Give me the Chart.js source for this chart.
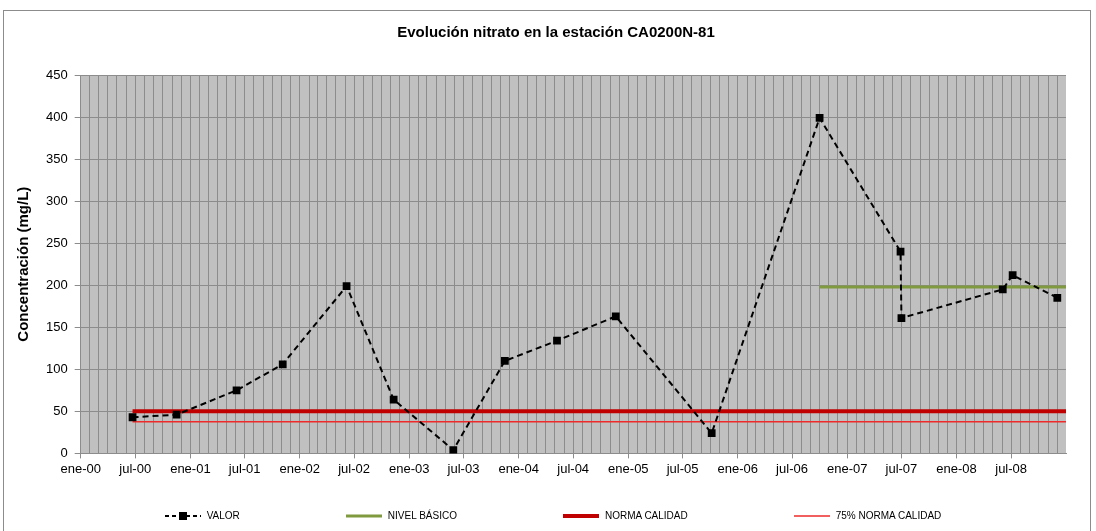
<!DOCTYPE html>
<html lang="es">
<head>
<meta charset="UTF-8">
<script src="https://cdn.jsdelivr.net/npm/chart.js"></script>
<title>Evolución nitrato</title>
<style>
  body { margin: 0; background: #fff; }
  #wrap { position: relative; width: 1096px; height: 531px; }
  #titulo {
    position: absolute; left: 356px; top: 23px; width: 400px; text-align: center;
    font: bold 15px "Liberation Sans", Arial, sans-serif; color: #000;
  }
  #legend {
    position: absolute; left: 0; top: 510px; width: 1096px;
    display: flex; justify-content: center; gap: 104px;
    padding-left: 8px; box-sizing: border-box;
    font: 10px "Liberation Sans", Arial, sans-serif; color: #000;
  }
  .item { display: flex; align-items: center; }
  .item canvas { margin-right: 4px; }
</style>
</head>
<body>
<div id="wrap">
  <canvas id="grafico" width="1096" height="531"></canvas>
  <div id="titulo">Evolución nitrato en la estación CA0200N-81</div>
  <div id="legend"></div>
</div>

<script>
// fechas de muestreo y concentraciones de nitrato (mg/L)
const fechas = ['2000-06-22', '2000-11-16', '2001-06-04', '2001-11-05', '2002-06-06',
  '2002-11-10', '2003-05-28', '2003-11-16', '2004-05-08', '2004-11-20', '2005-10-06',
  '2006-10-01', '2007-06-28', '2007-07-01', '2008-06-03', '2008-07-06', '2008-12-02'];
const valores = [43, 46, 75, 106, 199, 64, 4, 110, 134, 163, 24, 399, 240, 161, 195, 212, 185];

// niveles de referencia
const nivelBasico = 198;
const nivelDesde = '2006-10-01';
const normaCalidad = 50;
const norma75 = 37.5;
const normaDesde = '2000-06-22';

// eje temporal
const ejeInicio = '2000-01-01';
const ejeFin = '2008-12-31';
const nombresMes = { 0: 'ene', 6: 'jul' };
const yTicks = [0, 50, 100, 150, 200, 250, 300, 350, 400, 450];

const toMs = s => Date.parse(s + 'T00:00:00Z');

// una marca por mes (rejilla vertical)
const meses = [];
for (let y = 2000; y <= 2008; y++) {
  for (let m = 0; m < 12; m++) meses.push(Date.UTC(y, m, 1));
}

const tramo = (desde, valor) => [
  { x: toMs(desde), y: valor },
  { x: toMs(ejeFin), y: valor }
];

const gris = '#8c8c8c';
const fuente = '"Liberation Sans", Arial, sans-serif';

const fondoPlugin = {
  id: 'fondo',
  beforeDraw(chart) {
    const { ctx, chartArea: a } = chart;
    ctx.save();
    ctx.fillStyle = '#c0c0c0';
    ctx.fillRect(a.left, a.top, a.width, a.height);
    ctx.strokeStyle = gris;
    ctx.lineWidth = 1;
    ctx.strokeRect(3.5, 10.5, 1087, 530);
    ctx.restore();
  }
};

const ctx = document.getElementById('grafico').getContext('2d');

const grafico = new Chart(ctx, {
  type: 'line',
  data: {
    datasets: [
      {
        label: 'VALOR',
        data: fechas.map((f, i) => ({ x: toMs(f), y: valores[i] })),
        borderColor: '#000',
        borderWidth: 2,
        borderDash: [6, 4],
        pointStyle: 'rect',
        pointRadius: 5.5,
        pointBackgroundColor: '#000',
        pointBorderWidth: 0
      },
      {
        label: 'NIVEL BÁSICO',
        data: tramo(nivelDesde, nivelBasico),
        borderColor: '#7f9a3f',
        borderWidth: 3,
        pointRadius: 0
      },
      {
        label: 'NORMA CALIDAD',
        data: tramo(normaDesde, normaCalidad),
        borderColor: '#c00000',
        borderWidth: 4,
        pointRadius: 0
      },
      {
        label: '75% NORMA CALIDAD',
        data: tramo(normaDesde, norma75),
        borderColor: '#ee2a2a',
        borderWidth: 1.5,
        pointRadius: 0
      }
    ]
  },
  options: {
    responsive: false,
    animation: false,
    layout: { padding: { top: 75, left: 10, right: 30, bottom: 51 } },
    plugins: {
      legend: { display: false },
      tooltip: { enabled: false },
      title: { display: false }
    },
    scales: {
      x: {
        type: 'linear',
        min: toMs(ejeInicio),
        max: toMs(ejeFin),
        afterBuildTicks: scale => { scale.ticks = meses.map(v => ({ value: v })); },
        ticks: {
          autoSkip: false,
          maxRotation: 0,
          padding: 3,
          color: '#000',
          font: { family: fuente, size: 13 },
          callback: v => {
            const d = new Date(v);
            const nombre = nombresMes[d.getUTCMonth()];
            return nombre ? nombre + '-' + String(d.getUTCFullYear()).slice(2) : '';
          }
        },
        grid: {
          color: gris,
          tickLength: 5,
          tickColor: c => (c.tick && c.tick.label ? gris : 'rgba(0,0,0,0)')
        },
        border: { color: gris }
      },
      y: {
        min: 0,
        max: 450,
        afterBuildTicks: scale => { scale.ticks = yTicks.map(v => ({ value: v })); },
        ticks: {
          padding: 7,
          color: '#000',
          font: { family: fuente, size: 13 }
        },
        grid: { color: gris, tickLength: 6 },
        border: { color: gris },
        title: {
          display: true,
          text: 'Concentración (mg/L)',
          color: '#000',
          font: { family: fuente, size: 15, weight: 'bold' },
          padding: { top: 5, bottom: 6 }
        }
      }
    }
  },
  plugins: [fondoPlugin]
});

// leyenda en HTML a partir de los estilos de cada serie
const leyenda = document.getElementById('legend');
grafico.data.datasets.forEach(ds => {
  const item = document.createElement('div');
  item.className = 'item';
  const c = document.createElement('canvas');
  c.width = 40; c.height = 10;
  const g = c.getContext('2d');
  g.strokeStyle = ds.borderColor;
  g.lineWidth = ds.borderWidth;
  if (ds.borderDash) g.setLineDash([4, 3]);
  g.beginPath(); g.moveTo(2, 5); g.lineTo(38, 5); g.stroke();
  if (ds.pointStyle === 'rect') {
    g.fillStyle = ds.pointBackgroundColor;
    g.fillRect(16, 1, 8, 8);
  }
  item.appendChild(c);
  const t = document.createElement('span');
  t.textContent = ds.label;
  item.appendChild(t);
  leyenda.appendChild(item);
});
</script>
</body>
</html>
